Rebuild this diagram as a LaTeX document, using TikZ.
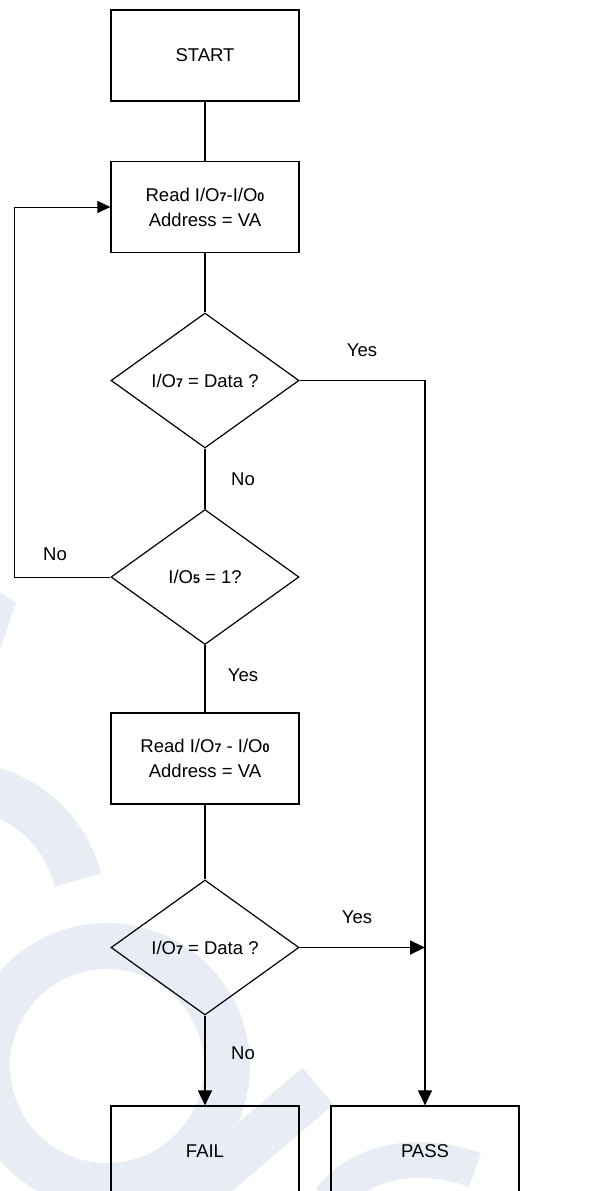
\documentclass[tikz,border=0pt]{standalone}
\usepackage{fontspec}
\setmainfont{Liberation Sans}
\usetikzlibrary{shapes.geometric,arrows.meta}
\definecolor{faded}{HTML}{E8ECF4}
\newcommand{\pinno}[1]{{\fontsize{12.5}{12.5}\selectfont\bfseries #1}}

\begin{document}
\begin{tikzpicture}[x=1pt, y=-1pt,
        every node/.style={font=\fontsize{18.5}{25}\selectfont},
        block/.style={draw=black, line width=1.2pt, minimum width=188pt,
            minimum height=91pt, align=center, inner sep=0pt},
        choice/.style={draw=black, diamond, line width=1.2pt, minimum width=188pt,
            minimum height=135pt, inner sep=0pt},
        flow/.style={line width=1.1pt},
        arrowed/.style={-{Triangle[length=15pt, width=14pt]}}]
        % keep the page size of the scan
        \useasboundingbox (0, 0) rectangle (612, 1191);
        \clip (0, 0) rectangle (612, 1191);
        % faded logo behind the chart
        \fill[faded] (0, 592) -- (16, 603) -- (0, 650) -- cycle;
        \draw[faded, line width=48pt] (-12, 790) .. controls (30, 800) and (65, 832) .. (78, 880);
        \draw[faded, line width=46pt] (107, 1066) circle (120);
        \draw[faded, line width=48pt] (318, 1086) -- (185, 1200);
        \draw[faded, line width=36pt] (330, 1200) .. controls (360, 1160) and (420, 1150) .. (475, 1170);
        % draw steps
        \node[block] (start) at (205, 55.5) {START};
        \node[block] (read1) at (205, 207) {Read I/O\pinno{7}-I/O\pinno{0}\\Address = VA};
        \node[choice] (test1) at (205, 380.5) {I/O\pinno{7} = Data ?};
        \node[choice] (test2) at (205, 577) {I/O\pinno{5} = 1?};
        \node[block] (read2) at (205, 758.5) {Read I/O\pinno{7} - I/O\pinno{0}\\Address = VA};
        \node[choice] (test3) at (205, 947.5) {I/O\pinno{7} = Data ?};
        \node[block] (fail) at (205, 1151.5) {FAIL};
        \node[block] (pass) at (425, 1151.5) {PASS};
        % draw connectors
        \draw[flow] (start) -- (read1);
        \draw[flow] (read1) -- (test1);
        \draw[flow, arrowed] (test1.east) -| (pass.north);
        \draw[flow] (test1) -- (test2);
        \coordinate (back) at (14, 577);
        \draw[line width=0.9pt, -{Triangle[length=13pt, width=12pt]}] (test2.west) -- (back) |- (read1.west);
        \draw[flow] (test2) -- (read2);
        \draw[flow] (read2) -- (test3);
        \coordinate (merge) at (pass.north |- test3.east);
        \draw[line width=1.8pt, arrowed] (test3.east) -- (merge);
        \draw[line width=1.6pt, arrowed] (test3.south) -- (fail.north);
        % add branch labels
        \node (yes1) at (362, 350) {Yes};
        \node (no1) at (243, 479) {No};
        \node (no2) at (55, 554) {No};
        \node (yes2) at (243, 675) {Yes};
        \node (yes3) at (357, 917) {Yes};
        \node (no3) at (243, 1053) {No};
    \end{tikzpicture}
\end{document}
